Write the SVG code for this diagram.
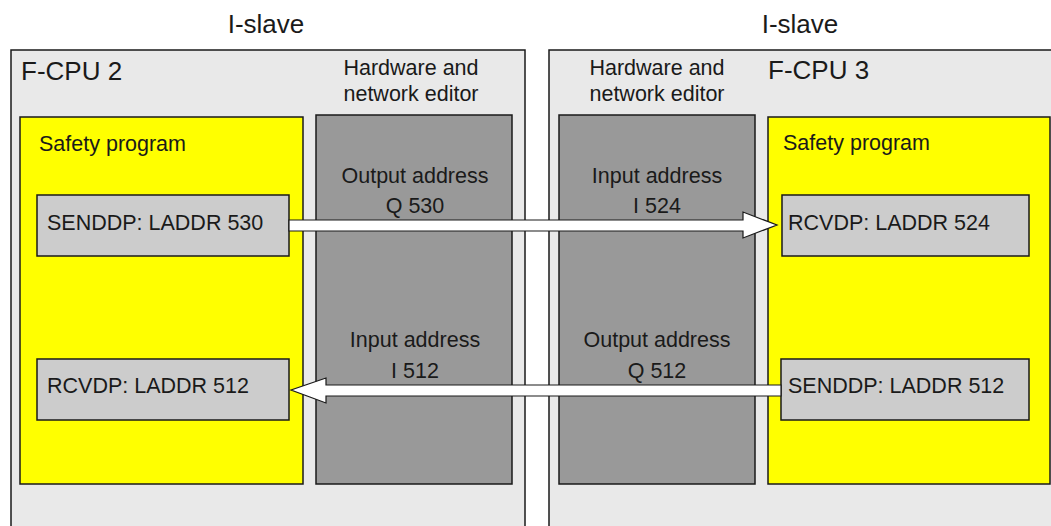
<svg xmlns="http://www.w3.org/2000/svg" width="1051" height="526" viewBox="0 0 1051 526">
<style>
text{font-family:"Liberation Sans",Arial,sans-serif;fill:#1a1a1a}
.big{font-size:26px}
.mid{font-size:21.5px}
.c{text-anchor:middle}
.outer{fill:#e9e9e9;stroke:#1a1a1a;stroke-width:1.5}
.yel{fill:#ffff00;stroke:#1a1a1a;stroke-width:1.5}
.dark{fill:#999999;stroke:#1a1a1a;stroke-width:1.5}
.blk{fill:#cccccc;stroke:#1a1a1a;stroke-width:1.5}
.arr{fill:#ffffff;stroke:#1a1a1a;stroke-width:1.2;stroke-linejoin:miter}
</style>
<rect width="1051" height="526" fill="#ffffff"/>
<text class="big c" x="266" y="33">I-slave</text>
<text class="big c" x="800" y="33">I-slave</text>
<g id="cpu2">
<rect class="outer" x="11" y="50" width="514" height="490"/>
<text class="big" x="21" y="80">F-CPU 2</text>
<text class="mid c" x="411" y="75">Hardware and</text>
<text class="mid c" x="411" y="101">network editor</text>
</g>
<g id="cpu3">
<rect class="outer" x="549" y="50" width="520" height="490"/>
<text class="big" x="768" y="79">F-CPU 3</text>
<text class="mid c" x="657" y="75">Hardware and</text>
<text class="mid c" x="657" y="101">network editor</text>
</g>
<g id="safety2">
<rect class="yel" x="20" y="117" width="283" height="367"/>
<text class="mid" x="39" y="151">Safety program</text>
</g>
<g id="hw2">
<rect class="dark" x="316" y="115" width="196" height="369"/>
<text class="mid c" x="415" y="183">Output address</text>
<text class="mid c" x="415" y="213">Q 530</text>
<text class="mid c" x="415" y="347">Input address</text>
<text class="mid c" x="415" y="378">I 512</text>
</g>
<g id="hw3">
<rect class="dark" x="559" y="115" width="196" height="369"/>
<text class="mid c" x="657" y="183">Input address</text>
<text class="mid c" x="657" y="213">I 524</text>
<text class="mid c" x="657" y="347">Output address</text>
<text class="mid c" x="657" y="378">Q 512</text>
</g>
<g id="safety3">
<rect class="yel" x="768" y="117" width="282" height="367"/>
<text class="mid" x="783" y="150">Safety program</text>
</g>
<g id="send530">
<rect class="blk" x="37" y="195" width="252" height="61"/>
<text class="mid" x="47" y="230">SENDDP: LADDR 530</text>
</g>
<g id="rcv512">
<rect class="blk" x="37" y="359" width="252" height="61"/>
<text class="mid" x="47" y="393">RCVDP: LADDR 512</text>
</g>
<g id="rcv524">
<rect class="blk" x="782" y="195" width="247" height="61"/>
<text class="mid" x="788" y="230">RCVDP: LADDR 524</text>
</g>
<g id="send512">
<rect class="blk" x="781" y="359" width="248" height="61"/>
<text class="mid" x="788" y="393">SENDDP: LADDR 512</text>
</g>
<g id="connectors">
<polygon class="arr" points="289,220 743,220 743,212 777,225 743,238 743,231 289,231"/>
<polygon class="arr" points="781,385 326,385 326,378 291,390 326,403 326,396 781,396"/>
</g>
</svg>
